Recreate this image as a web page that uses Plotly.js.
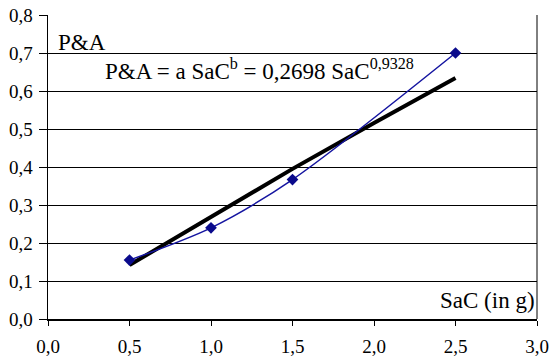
<!DOCTYPE html>
<html><head><meta charset="utf-8">
<script src="https://cdn.plot.ly/plotly-3.0.1.min.js"></script>
<style>body{margin:0;padding:0;background:#fff}#c{width:551px;height:362px}</style>
</head><body><div id="c"></div>
<script>
const sacX = [0.5, 1.0, 1.5, 2.5];
const paY = [0.155, 0.240, 0.367, 0.700];
const fitX = [0.5, 1.0, 1.5, 2.0, 2.5];
const fitY = [0.142, 0.270, 0.395, 0.516, 0.634];
const xTicks = [0, 0.5, 1.0, 1.5, 2.0, 2.5, 3.0];
const yTicks = [0, 0.1, 0.2, 0.3, 0.4, 0.5, 0.6, 0.7, 0.8];

const FAM = 'Liberation Serif, serif';
function mkFont(size) { return {family: FAM, size: size, color: '#000'}; }
const traces = [
  {x: fitX, y: fitY, mode: 'lines', line: {color: '#000', width: 4}, hoverinfo: 'skip'},
  {x: sacX, y: paY, mode: 'lines+markers', line: {color: '#1414a0', width: 1.5, shape: 'spline', smoothing: 0.8},
   marker: {symbol: 'diamond', size: 9, color: '#0a0a8c'}}
];
const layout = {
  width: 551, height: 362,
  margin: {l: 48, r: 14, t: 15, b: 43},
  paper_bgcolor: '#fff', plot_bgcolor: '#fff',
  separators: ',.',
  showlegend: false,
  font: mkFont(19),
  xaxis: {range: [0, 3], tickvals: xTicks, tickformat: '.1f', showgrid: false, zeroline: false,
    showline: true, linecolor: '#000', linewidth: 1.5, ticks: 'outside', ticklen: 5, tickcolor: '#000',
    ticklabelstandoff: 5, tickfont: mkFont(19)},
  yaxis: {range: [0, 0.8], tickvals: yTicks, tickformat: '.1f', showgrid: true, gridcolor: '#000', gridwidth: 1,
    zeroline: false, showline: true, linecolor: '#000', linewidth: 1.5, ticks: 'outside', ticklen: 8, tickcolor: '#000',
    ticklabelstandoff: 2, tickfont: mkFont(19)},
  shapes: [
    {type: 'line', xref: 'paper', yref: 'paper', x0: 1, x1: 1, y0: 0, y1: 1, line: {color: '#000', width: 1}}
  ],
  annotations: [
    {xref: 'paper', yref: 'paper', x: 0.016, y: 0.91, xanchor: 'left', yanchor: 'middle', showarrow: false,
     text: 'P&amp;A', font: mkFont(23)},
    {xref: 'paper', yref: 'paper', x: 0.113, y: 0.82, xanchor: 'left', yanchor: 'middle', showarrow: false,
     text: 'P&amp;A = a SaC<sup>b</sup> = 0,2698 SaC<sup>0,9328</sup>', font: mkFont(23)},
    {xref: 'paper', yref: 'paper', x: 0.999, y: 0.062, xanchor: 'right', yanchor: 'middle', showarrow: false,
     text: 'SaC (in g)', font: mkFont(23)}
  ]
};
Plotly.newPlot('c', traces, layout, {staticPlot: true, displayModeBar: false});
</script></body></html>
